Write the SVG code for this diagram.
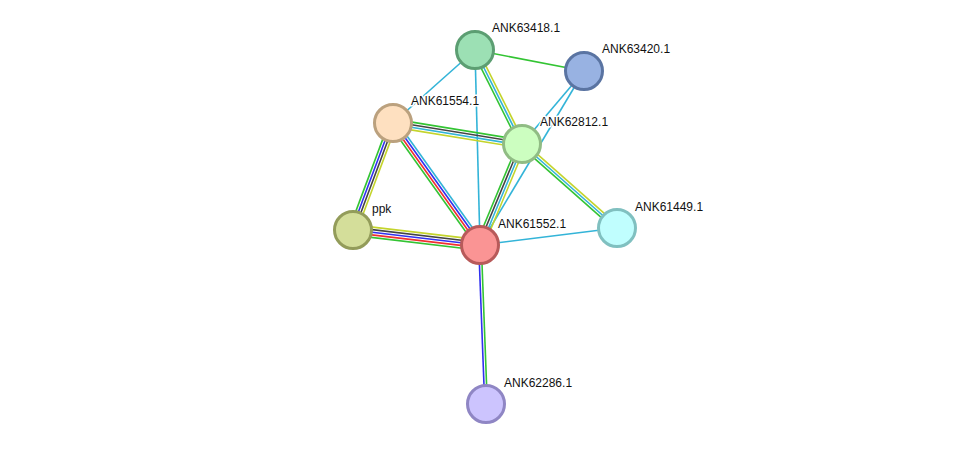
<svg xmlns="http://www.w3.org/2000/svg" width="975" height="450" viewBox="0 0 975 450">
<style>
line{stroke-width:1.6;fill:none}
.g{stroke:#33c433}.r{stroke:#f03030}.b{stroke:#3030f0}.k{stroke:#444444}.c{stroke:#33b4d8}.y{stroke:#c4d42c}
.node circle{stroke-width:3}
text{font-family:"Liberation Sans",Arial,sans-serif;font-size:12px;fill:#111;stroke:#fff;stroke-width:3;paint-order:stroke;stroke-linejoin:round}
</style>
<rect width="975" height="450" fill="#fff"/>
<g id="connectors">
<line class="g" x1="475" y1="50" x2="584" y2="71"/>
<line class="c" x1="475" y1="50" x2="393" y2="123"/>
<line class="c" x1="475" y1="50" x2="480" y2="245"/>
<line class="c" x1="584" y1="71" x2="522" y2="144"/>
<line class="c" x1="584" y1="71" x2="480" y2="245"/>
<line class="c" x1="480" y1="245" x2="617" y2="228"/>
<g transform="translate(393,123) rotate(9.25)">
<line class="g" x1="0" y1="-3.9" x2="130.7" y2="-3.9"/><line class="k" x1="0" y1="-1.3" x2="130.7" y2="-1.3"/><line class="c" x1="0" y1="1.3" x2="130.7" y2="1.3"/><line class="y" x1="0" y1="3.9" x2="130.7" y2="3.9"/>
</g>
<g transform="translate(393,123) rotate(110.5)">
<line class="g" x1="0" y1="3.9" x2="114.2" y2="3.9"/><line class="b" x1="0" y1="1.3" x2="114.2" y2="1.3"/><line class="k" x1="0" y1="-1.3" x2="114.2" y2="-1.3"/><line class="y" x1="0" y1="-3.9" x2="114.2" y2="-3.9"/>
</g>
<g transform="translate(393,123) rotate(54.5)">
<line class="g" x1="0" y1="3.9" x2="149.8" y2="3.9"/><line class="r" x1="0" y1="1.3" x2="149.8" y2="1.3"/><line class="b" x1="0" y1="-1.3" x2="149.8" y2="-1.3"/><line class="c" x1="0" y1="-3.9" x2="149.8" y2="-3.9"/>
</g>
<g transform="translate(353,230) rotate(6.74)">
<line class="y" x1="0" y1="-5.2" x2="127.9" y2="-5.2"/><line class="k" x1="0" y1="-2.6" x2="127.9" y2="-2.6"/><line class="b" x1="0" y1="0" x2="127.9" y2="0"/><line class="r" x1="0" y1="2.6" x2="127.9" y2="2.6"/><line class="g" x1="0" y1="5.2" x2="127.9" y2="5.2"/>
</g>
<g transform="translate(522,144) rotate(112.6)">
<line class="g" x1="0" y1="3.9" x2="109.4" y2="3.9"/><line class="k" x1="0" y1="1.3" x2="109.4" y2="1.3"/><line class="c" x1="0" y1="-1.3" x2="109.4" y2="-1.3"/><line class="y" x1="0" y1="-3.9" x2="109.4" y2="-3.9"/>
</g>
<g transform="translate(475,50) rotate(63.4)">
<line class="g" x1="0" y1="2.6" x2="105.1" y2="2.6"/><line class="c" x1="0" y1="0" x2="105.1" y2="0"/><line class="y" x1="0" y1="-2.6" x2="105.1" y2="-2.6"/>
</g>
<g transform="translate(522,144) rotate(41.5)">
<line class="g" x1="0" y1="2.6" x2="126.8" y2="2.6"/><line class="c" x1="0" y1="0" x2="126.8" y2="0"/><line class="y" x1="0" y1="-2.6" x2="126.8" y2="-2.6"/>
</g>
<g transform="translate(480,245) rotate(87.84)">
<line class="b" x1="0" y1="1.3" x2="159.1" y2="1.3"/><line class="g" x1="0" y1="-1.3" x2="159.1" y2="-1.3"/>
</g>
</g>
<g id="ANK63418.1" class="node"><circle cx="475" cy="50" r="18.5" fill="#9ce0b4" stroke="#5c9e72"/><text x="492" y="32">ANK63418.1</text></g>
<g id="ANK63420.1" class="node"><circle cx="584" cy="71" r="18.5" fill="#98b2e2" stroke="#5a74a2"/><text x="602" y="53">ANK63420.1</text></g>
<g id="ANK61554.1" class="node"><circle cx="393" cy="123" r="18.5" fill="#fee0c0" stroke="#bba17e"/><text x="411" y="105">ANK61554.1</text></g>
<g id="ANK62812.1" class="node"><circle cx="522" cy="144" r="18.5" fill="#ccfec0" stroke="#90bc84"/><text x="540" y="126">ANK62812.1</text></g>
<g id="ppk" class="node"><circle cx="353" cy="230" r="18.5" fill="#d4de9a" stroke="#939c5a"/><text x="372" y="213">ppk</text></g>
<g id="ANK61552.1" class="node"><circle cx="480" cy="245" r="18.5" fill="#fa9494" stroke="#b85a5a"/><text x="498" y="228">ANK61552.1</text></g>
<g id="ANK61449.1" class="node"><circle cx="617" cy="228" r="18.5" fill="#c0fefe" stroke="#80c0c0"/><text x="635" y="211">ANK61449.1</text></g>
<g id="ANK62286.1" class="node"><circle cx="486" cy="404" r="18.5" fill="#ccc4fe" stroke="#8f86c4"/><text x="504" y="387">ANK62286.1</text></g>
</svg>
